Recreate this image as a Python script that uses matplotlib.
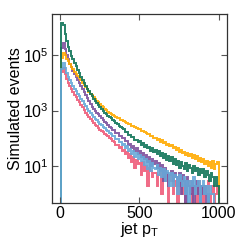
import matplotlib
matplotlib.use("Agg")
import matplotlib.pyplot as plt
import numpy as np

plt.rcParams['font.family'] = ['Liberation Sans', 'DejaVu Sans']
plt.rcParams['mathtext.default'] = 'regular'

# bin edges of jet pT (10 GeV bins)
edges = np.arange(10, 1001, 10)

# events per bin
green = [1350000, 1150000, 575000, 316000, 195000, 132000, 93000, 69000, 52500,
         38000, 28200, 21400, 16200, 12600, 9800, 7760, 6170, 4900, 3980,
         3240, 2690, 2240, 1900, 1620, 1380, 1175, 1000, 851, 741,
         660, 575, 520, 455, 410, 362, 330, 290, 258, 228,
         212, 175, 170, 138, 135, 110, 110, 90, 88, 74,
         80, 60, 70, 50, 58, 44, 50, 36, 44, 34,
         38, 27, 35, 23, 30, 20, 27, 17, 23, 15,
         21, 12, 18, 11, 16, 9, 14, 10, 8, 13,
         7, 11, 9, 6, 10, 7, 9, 5, 8, 6,
         8, 4, 7, 5, 3, 6, 4, 2, 4, 2]
orange = [76000, 115000, 95000, 72000, 57500, 45700, 37200, 30200, 25100,
          20900, 17400, 14500, 12000, 10000, 8300, 6900, 5750, 4800, 4070,
          3470, 2950, 2570, 2240, 1950, 1700, 1480, 1290, 1150, 1020,
          900, 845, 760, 690, 640, 595, 548, 520, 472, 450,
          425, 385, 365, 335, 318, 290, 275, 252, 242, 220,
          212, 190, 186, 165, 162, 142, 140, 118, 120, 102,
          106, 88, 94, 76, 86, 68, 72, 60, 66, 52,
          58, 46, 50, 40, 46, 34, 40, 30, 34, 26,
          30, 23, 28, 20, 25, 18, 23, 15, 20, 14,
          18, 12, 16, 10, 14, 9, 15, 8, 12, 14]
purple = [178000, 263000, 166000, 100000, 67600, 47900, 35500, 26900, 20400,
          15800, 12300, 9550, 7400, 5750, 4470, 3550, 2820, 2240, 1780,
          1320, 1150, 980, 850, 724, 630, 537, 468, 398, 347,
          310, 265, 245, 205, 195, 160, 155, 125, 120, 100,
          102, 78, 84, 60, 66, 46, 55, 36, 44, 28,
          36, 22, 31, 18, 26, 14, 22, 10, 18, 12,
          15, 9, 13, 7, 11, 3, 9, 6, 2, 5,
          7, 3, 6, 4, 2, 6, 1, 5, 3, 0,
          4, 2, 1, 3, 0, 2, 3, 1, 0, 2,
          1, 2, 0, 1, 0, 0, 0, 0, 0, 0]
blue = [31600, 51300, 33100, 22400, 16600, 12600, 9770, 7760, 6170,
        5010, 4070, 3310, 2690, 2190, 1780, 1450, 1175, 955, 794,
        676, 589, 513, 447, 389, 339, 295, 257, 229, 204,
        190, 158, 150, 122, 118, 95, 92, 74, 72, 58,
        64, 45, 52, 35, 42, 28, 36, 22, 30, 18,
        26, 15, 21, 11, 18, 8, 15, 7, 13, 9,
        8, 11, 5, 9, 4, 8, 3, 7, 6, 2,
        6, 2, 5, 4, 1, 5, 3, 2, 4, 1,
        3, 0, 3, 2, 4, 1, 2, 3, 0, 2,
        3, 1, 2, 0, 2, 1, 1, 0, 0, 0]
pink = [25100, 33900, 20900, 13500, 9770, 7410, 5750, 4570, 3630,
        2950, 2400, 1950, 1585, 1290, 1050, 851, 692, 575, 479,
        407, 355, 309, 269, 234, 209, 186, 166, 148, 132,
        125, 100, 96, 78, 76, 60, 60, 45, 48, 36,
        40, 28, 32, 20, 27, 14, 22, 9, 17, 12,
        13, 5, 14, 7, 10, 2, 9, 7, 4, 6,
        6, 2, 5, 6, 1, 4, 3, 5, 0, 3,
        4, 1, 3, 2, 0, 3, 2, 1, 3, 0,
        2, 3, 1, 0, 2, 2, 0, 3, 1, 2,
        0, 2, 1, 3, 0, 1, 2, 0, 1, 2]

series = [(pink, '#ee5a78'), (purple, '#7d4f9c'), (orange, '#ffaa00'),
          (green, '#0f7457'), (blue, '#66a8d8')]

fig = plt.figure(figsize=(2.49, 2.49), dpi=100)
ax = fig.add_axes([0.208, 0.186, 0.702, 0.758])

for vals, col in series:
    ax.stairs(vals, edges, baseline=0, color=col, lw=1.4, alpha=0.9)

ax.set_yscale('log')
ax.set_xlim(-50, 1050)
ax.set_ylim(0.5, 2.9e6)
ax.set_yticks([1e1, 1e3, 1e5])
ax.yaxis.set_minor_locator(matplotlib.ticker.NullLocator())
ax.set_xticks([0, 500, 1000])
ax.tick_params(direction='in', top=True, right=True, length=4, width=0.8,
               labelsize=11.5, pad=2.5, color='#555555')
for s in ax.spines.values():
    s.set_color('#333333')
    s.set_linewidth(0.9)

ax.set_xlabel('jet p$_T$', fontsize=11.5, labelpad=-1)
ax.set_ylabel('Simulated events', fontsize=11.5, labelpad=0)

fig.savefig('out.png', dpi=100)
